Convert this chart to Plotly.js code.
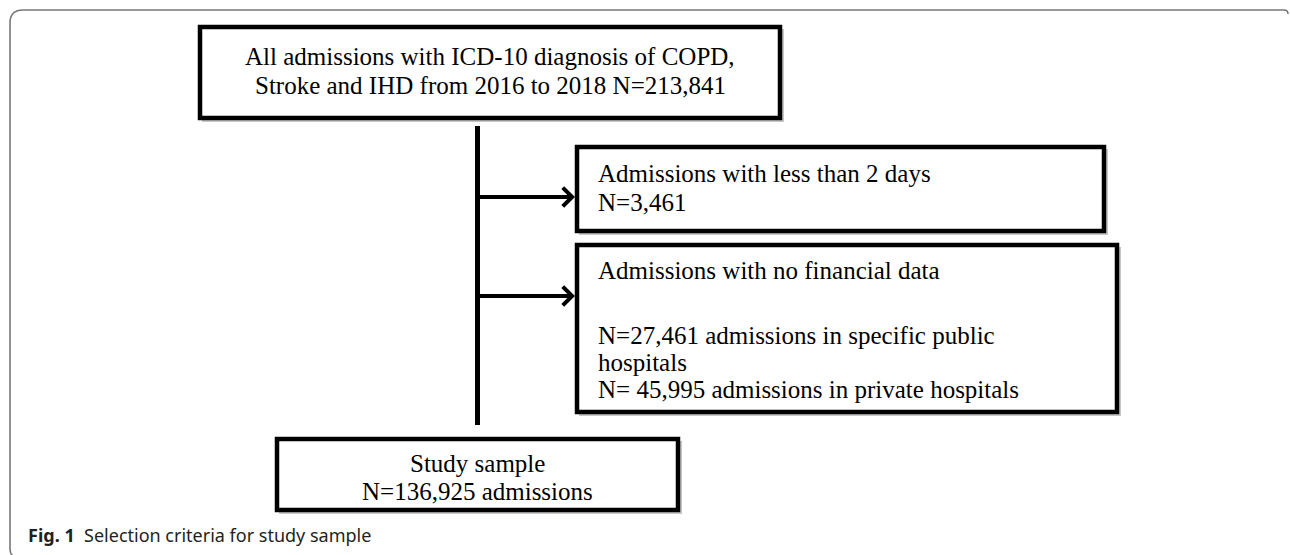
<!DOCTYPE html>
<html>
<head>
<meta charset="utf-8">
<script src="https://cdn.plot.ly/plotly-3.0.1.min.js"></script>
<style>html,body{margin:0;padding:0;background:#fff;}#chart{width:1290px;height:555px;}</style>
</head>
<body>
<div id="chart"></div>
<script>
// Flowchart content (one array of lines per box)
const sourceLines = ["All admissions with ICD-10 diagnosis of COPD,", "Stroke and IHD from 2016 to 2018 N=213,841"];
const excluded1Lines = ["Admissions with less than 2 days", "N=3,461"];
const excluded2Lines = ["Admissions with no financial data", "N=27,461 admissions in specific public", "hospitals", "N= 45,995 admissions in private hospitals"];
const sampleLines = ["Study sample", "N=136,925 admissions"];
const captionBold = "Fig. 1";
const captionText = "Selection criteria for study sample";

// Layout geometry (pixel space)
const boxes = [
  {x0: 200, x1: 780, y0: 27, y1: 118, align: "center", lines: sourceLines, ly: [56, 85]},
  {x0: 577, x1: 1104, y0: 147, y1: 231, align: "left", lines: excluded1Lines, ly: [173, 202]},
  {x0: 577, x1: 1117, y0: 245, y1: 412, align: "left", lines: excluded2Lines, ly: [270, 335, 362, 389]},
  {x0: 277, x1: 678, y0: 439, y1: 510, align: "center", lines: sampleLines, ly: [463, 491]}
];
const trunkX = 477.5, trunkY0 = 126, trunkY1 = 425;
const arrowY = [197, 296];
const FONT = "Liberation Serif, Times New Roman, serif";

const shapes = [];
const annotations = [];

// outer frame (top + left with rounded corners, small right hook)
shapes.push({type: "path", xref: "x", yref: "y",
  path: "M 13 556 Q 10 554 10 549 L 10 23 Q 10 10 23 10 L 1284 10 Q 1288 10 1288 14",
  line: {color: "#777", width: 1.6}});

boxes.forEach((b) => {
  // soft shadow
  shapes.push({type: "path", xref: "x", yref: "y",
    path: `M ${b.x1 + 3} ${b.y0 + 2} L ${b.x1 + 3} ${b.y1 + 3} L ${b.x0 + 2} ${b.y1 + 3}`,
    line: {color: "rgba(0,0,0,0.22)", width: 2}});
  shapes.push({type: "rect", xref: "x", yref: "y", x0: b.x0, x1: b.x1, y0: b.y0, y1: b.y1,
    line: {color: "#000", width: 4.5}, fillcolor: "rgba(0,0,0,0)"});
  const isCenter = b.align === "center";
  b.lines.forEach((t, k) => {
    annotations.push({
      xref: "x", yref: "y",
      x: isCenter ? (b.x0 + b.x1) / 2 : b.x0 + 19,
      y: b.ly[k],
      xanchor: isCenter ? "center" : "left", yanchor: "middle",
      text: t, showarrow: false,
      font: {family: FONT, size: 25, color: "#000"}
    });
  });
});

// trunk line
shapes.push({type: "line", xref: "x", yref: "y", x0: trunkX, x1: trunkX, y0: trunkY0, y1: trunkY1,
  line: {color: "#000", width: 5}});

// arrows
arrowY.forEach((y) => {
  annotations.push({xref: "x", yref: "y", axref: "x", ayref: "y",
    x: 575, y: y, ax: trunkX, ay: y, text: "", showarrow: true,
    arrowhead: 4, arrowsize: 0.9, arrowwidth: 4, arrowcolor: "#000", standoff: 0});
});

// caption
annotations.push({xref: "x", yref: "y", x: 26, y: 535, xanchor: "left", yanchor: "middle",
  text: "<b>" + captionBold + "</b>  " + captionText, showarrow: false,
  font: {family: "Noto Sans, Open Sans, sans-serif", size: 18, color: "#231f20"}});

const layout = {
  width: 1290, height: 555,
  margin: {l: 0, r: 0, t: 0, b: 0},
  paper_bgcolor: "#fff", plot_bgcolor: "#fff",
  xaxis: {range: [0, 1290], visible: false, fixedrange: true},
  yaxis: {range: [555, 0], visible: false, fixedrange: true},
  shapes: shapes, annotations: annotations, showlegend: false
};
Plotly.newPlot("chart", [], layout, {staticPlot: true, displayModeBar: false});
</script>
</body>
</html>
